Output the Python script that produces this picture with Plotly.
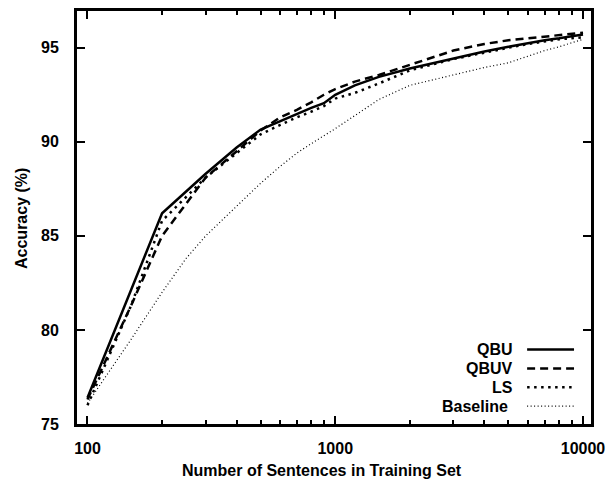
import plotly.graph_objects as go

# Accuracy (%) versus number of training sentences for four selection strategies
qbu_n = [100, 200, 300, 400, 500, 600, 700, 800, 900, 1000, 1200, 1500, 2000,
         3000, 4000, 5000, 6000, 7000, 8000, 10000]
qbu_acc = [76.4, 86.2, 88.3, 89.7, 90.65, 91.1, 91.45, 91.8, 92.05, 92.5, 93.0,
           93.45, 93.9, 94.45, 94.8, 95.05, 95.25, 95.4, 95.5, 95.7]

qbuv_n = [100, 150, 200, 250, 300, 400, 500, 600, 700, 800, 900, 1000, 1200,
          1500, 2000, 2500, 3000, 4000, 5000, 6000, 7000, 8000, 10000]
qbuv_acc = [76.3, 81.3, 85.0, 86.7, 88.1, 89.5, 90.6, 91.3, 91.7, 92.1, 92.5,
            92.8, 93.2, 93.55, 94.1, 94.5, 94.85, 95.2, 95.4, 95.5, 95.6, 95.65,
            95.8]

ls_n = [100, 150, 200, 300, 400, 500, 600, 700, 800, 900, 1000, 1200, 1500,
        2000, 3000, 4000, 5000, 6000, 7000, 8000, 10000]
ls_acc = [76.0, 81.3, 85.8, 88.1, 89.4, 90.4, 90.9, 91.3, 91.6, 91.9, 92.3,
          92.6, 93.1, 93.8, 94.4, 94.75, 95.0, 95.2, 95.35, 95.45, 95.55]

base_n = [100, 150, 200, 250, 300, 400, 500, 600, 700, 800, 1000, 1250, 1500,
          2000, 3000, 4000, 5000, 6000, 7000, 8000, 10000]
base_acc = [76.1, 79.5, 82.0, 83.8, 85.0, 86.6, 87.8, 88.7, 89.4, 89.9, 90.7,
            91.55, 92.25, 93.0, 93.55, 93.95, 94.2, 94.55, 94.85, 95.05, 95.45]

x_ticks = [100, 1000, 10000]
x_minor = [200, 300, 400, 500, 600, 700, 800, 900,
           2000, 3000, 4000, 5000, 6000, 7000, 8000, 9000]
y_ticks = [75, 80, 85, 90, 95]

series = [
    ("QBU", qbu_n, qbu_acc, dict(color="black", width=2.5, dash="solid")),
    ("QBUV", qbuv_n, qbuv_acc, dict(color="black", width=2.5, dash="8px,5px")),
    ("LS", ls_n, ls_acc, dict(color="black", width=2.5, dash="2.5px,4.5px")),
    ("Baseline", base_n, base_acc, dict(color="black", width=1.2, dash="1px,2.5px")),
]

W, H = 613, 482
L, R, T, B = 77, 21, 8, 58
pw, ph = W - L - R, H - T - B

FONT = "Liberation Sans, Arial, Helvetica, sans-serif"

fig = go.Figure()
for name, xs, ys, ln in series:
    fig.add_trace(go.Scatter(x=xs, y=ys, mode="lines", name=name, line=ln,
                             showlegend=False))

# Key in the lower right: right-aligned labels followed by line samples
key_rows = [349, 368, 387, 406]
key_text_right = [516, 516, 516, 511]
for (name, _, _, ln), py, tx in zip(series, key_rows, key_text_right):
    yp = (H - B - py) / ph
    fig.add_annotation(text=f"<b>{name}</b>", xref="paper", yref="paper",
                       x=(tx - L) / pw, y=yp, xanchor="right", yanchor="middle",
                       showarrow=False, font=dict(family=FONT, size=16, color="black"))
    fig.add_shape(type="line", xref="paper", yref="paper",
                  x0=(528 - L) / pw, x1=(575 - L) / pw, y0=yp, y1=yp,
                  line=dict(color="black", width=ln["width"], dash=ln["dash"]))

fig.add_annotation(text="<b>Number of Sentences in Training Set</b>",
                   xref="paper", yref="paper", x=(322 - L) / pw, y=0,
                   yshift=-(470 - (H - B)), xanchor="center", yanchor="middle",
                   showarrow=False, font=dict(family=FONT, size=16, color="black"))
fig.add_annotation(text="<b>Accuracy (%)</b>", textangle=-90,
                   xref="paper", yref="paper", x=0, y=0.5 - 1.5 / ph,
                   xshift=-(L - 22), xanchor="center", yanchor="middle",
                   showarrow=False, font=dict(family=FONT, size=16, color="black"))

x_lo = 2 - 10.5 / 248.25
x_hi = 4 + 8 / 248.25

fig.update_xaxes(
    type="log", range=[x_lo, x_hi],
    tickmode="array", tickvals=x_ticks, ticktext=[f"<b>{v}</b>" for v in x_ticks],
    ticks="inside", ticklen=8, tickwidth=2, tickcolor="black",
    minor=dict(tickmode="array", tickvals=x_minor, ticks="inside", ticklen=4,
               tickwidth=2, tickcolor="black", showgrid=False),
    showline=True, linewidth=3, linecolor="black", mirror="allticks",
    showgrid=False, zeroline=False, ticklabelstandoff=8,
    tickfont=dict(family=FONT, size=16, color="black"),
)
fig.update_yaxes(
    range=[75, 75 + ph / 18.95],
    tickmode="array", tickvals=y_ticks, ticktext=[f"<b>{v}</b>" for v in y_ticks],
    ticks="inside", ticklen=8, tickwidth=2, tickcolor="black",
    showline=True, linewidth=3, linecolor="black", mirror="allticks",
    showgrid=False, zeroline=False, ticklabelstandoff=12,
    tickfont=dict(family=FONT, size=16, color="black"),
)

fig.update_layout(
    width=W, height=H,
    margin=dict(l=L, r=R, t=T, b=B, pad=0),
    paper_bgcolor="white", plot_bgcolor="white",
    showlegend=False,
    font=dict(family=FONT, size=16, color="black"),
)

fig.write_html("out.html")
